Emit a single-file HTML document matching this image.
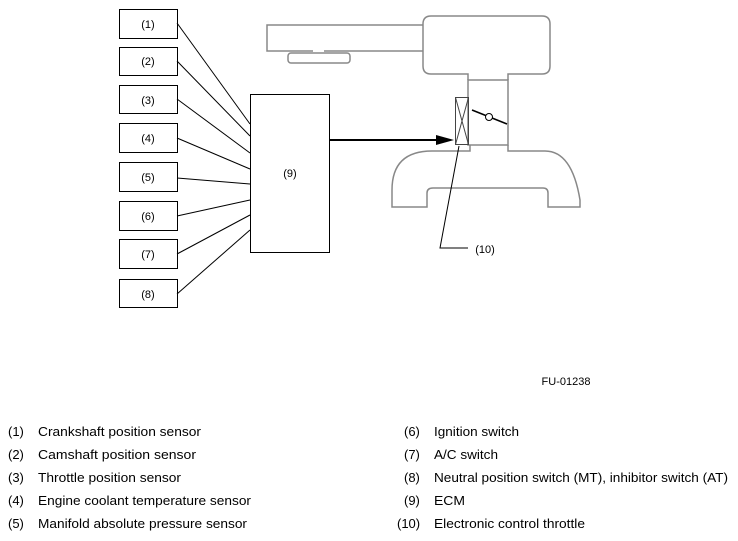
<!DOCTYPE html>
<html><head><style>html,body{margin:0;padding:0;background:#fff}svg{display:block}</style></head>
<body>
<svg width="738" height="541" viewBox="0 0 738 541" xmlns="http://www.w3.org/2000/svg" font-family="Liberation Sans, sans-serif">
<g fill="none" stroke="#000" stroke-width="1">
<rect x="119.5" y="9.5" width="58" height="29"/>
<rect x="119.5" y="47.5" width="58" height="28"/>
<rect x="119.5" y="85.5" width="58" height="28"/>
<rect x="119.5" y="123.5" width="58" height="29"/>
<rect x="119.5" y="162.5" width="58" height="29"/>
<rect x="119.5" y="201.5" width="58" height="29"/>
<rect x="119.5" y="239.5" width="58" height="29"/>
<rect x="119.5" y="279.5" width="58" height="28"/>
<rect x="250.5" y="94.5" width="79" height="158"/>
<line x1="177" y1="23" x2="250" y2="124"/>
<line x1="177" y1="61" x2="250" y2="136"/>
<line x1="177" y1="99" x2="250" y2="153"/>
<line x1="177" y1="138" x2="250" y2="169"/>
<line x1="177" y1="178" x2="250" y2="184"/>
<line x1="177" y1="216" x2="250" y2="200"/>
<line x1="177" y1="254" x2="250" y2="215"/>
<line x1="177" y1="294" x2="250" y2="230"/>
<line x1="329" y1="140" x2="440" y2="140" stroke-width="2"/>
</g>
<polygon points="454,140 436,135 436,145" fill="#000"/>
<g fill="none" stroke="#888" stroke-width="1.5">
<path d="M423,25 H267 V51 H313 M324,51 H423"/>
<rect x="288" y="53" width="62" height="10" rx="3"/>
<path d="M468,80 V74 H431 Q423,74 423,66 V24 Q423,16 431,16 H542 Q550,16 550,24 V66 Q550,74 542,74 H508 V80"/>
<path d="M468,80 V145 H508 V80 Z"/>
<path d="M470,145 V151 H432 Q392,151 392,190 V207 H427 V193 Q427,188 433,188 H543 Q548,188 548,193 V207 H580 V200 Q572,151 545,151 H508 V145"/>
</g>
<g fill="none" stroke="#000" stroke-width="1">
<rect x="455.5" y="97.5" width="13" height="47" stroke="#444"/>
<path d="M455.5,97.5 L468.5,144.5 M468.5,97.5 L455.5,144.5" stroke="#444"/>
<line x1="472" y1="110" x2="507" y2="124" stroke-width="1.5"/>
<circle cx="489" cy="117" r="3.5" fill="#fff"/>
<path d="M459,146 L440,248 H468"/>
</g>
<g font-size="11" fill="#000" text-anchor="middle">
<text x="148" y="28">(1)</text>
<text x="148" y="65">(2)</text>
<text x="148" y="104">(3)</text>
<text x="148" y="142">(4)</text>
<text x="148" y="181">(5)</text>
<text x="148" y="220">(6)</text>
<text x="148" y="258">(7)</text>
<text x="148" y="298">(8)</text>
<text x="290" y="177">(9)</text>
<text x="485" y="253">(10)</text>
<text x="566" y="385">FU-01238</text>
</g>
<g font-size="13" fill="#000">
<text x="8" y="436">(1)</text><text x="38" y="436" textLength="163" lengthAdjust="spacingAndGlyphs">Crankshaft position sensor</text>
<text x="8" y="459">(2)</text><text x="38" y="459" textLength="158" lengthAdjust="spacingAndGlyphs">Camshaft position sensor</text>
<text x="8" y="482">(3)</text><text x="38" y="482" textLength="143" lengthAdjust="spacingAndGlyphs">Throttle position sensor</text>
<text x="8" y="505">(4)</text><text x="38" y="505" textLength="213" lengthAdjust="spacingAndGlyphs">Engine coolant temperature sensor</text>
<text x="8" y="528">(5)</text><text x="38" y="528" textLength="209" lengthAdjust="spacingAndGlyphs">Manifold absolute pressure sensor</text>
<text x="404" y="436">(6)</text><text x="434" y="436" textLength="85" lengthAdjust="spacingAndGlyphs">Ignition switch</text>
<text x="404" y="459">(7)</text><text x="434" y="459" textLength="64" lengthAdjust="spacingAndGlyphs">A/C switch</text>
<text x="404" y="482">(8)</text><text x="434" y="482" textLength="294" lengthAdjust="spacingAndGlyphs">Neutral position switch (MT), inhibitor switch (AT)</text>
<text x="404" y="505">(9)</text><text x="434" y="505" textLength="31" lengthAdjust="spacingAndGlyphs">ECM</text>
<text x="397" y="528">(10)</text><text x="434" y="528" textLength="151" lengthAdjust="spacingAndGlyphs">Electronic control throttle</text>
</g>
</svg>
</body></html>
